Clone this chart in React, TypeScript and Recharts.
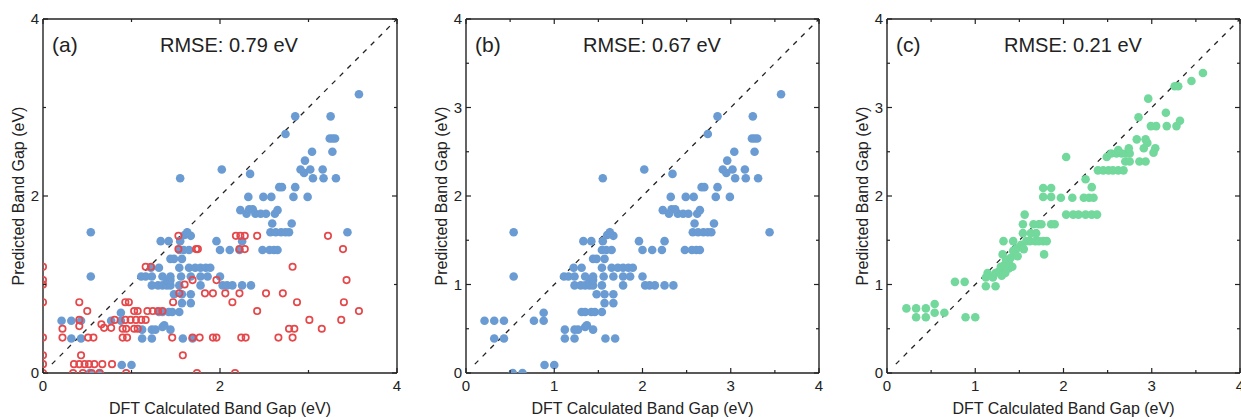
import React from "react";
import { ReferenceLine, Scatter, ScatterChart, XAxis, YAxis } from "recharts";

const FONT = "'Liberation Sans', Arial, Helvetica, sans-serif";
const INK = "#222222";

// blue model: used in panel (a) and again alone in panel (b)  [DFT, predicted]
const bluePoints: [number, number][] = [
  [0.53, 0], [0.64, 0],
  [0.89, 0.09], [1.0, 0.09],
  [0.32, 0.39], [0.43, 0.39], [1.12, 0.39], [1.23, 0.39], [1.58, 0.39], [1.69, 0.39],
  [1.12, 0.49], [1.23, 0.49], [1.27, 0.49], [1.35, 0.52], [1.37, 0.54], [1.44, 0.49],
  [0.21, 0.59], [0.32, 0.59], [0.43, 0.59], [0.77, 0.59], [0.88, 0.59],
  [0.88, 0.68],
  [1.31, 0.69], [1.35, 0.69], [1.42, 0.69], [1.46, 0.69], [1.54, 0.69],
  [1.57, 0.79], [1.67, 0.79],
  [1.48, 0.89], [1.57, 0.89], [1.67, 0.89],
  [1.23, 0.99], [1.3, 0.99], [1.35, 0.99], [1.4, 0.99], [1.44, 0.99], [1.54, 0.99],
  [1.78, 0.99], [2.03, 0.99], [2.08, 0.99], [2.14, 0.99], [2.25, 0.99], [2.35, 0.99],
  [1.4, 1.05], [1.44, 1.05],
  [0.54, 1.09], [1.11, 1.09], [1.16, 1.09], [1.23, 1.09], [1.35, 1.09], [1.44, 1.09],
  [1.56, 1.09], [1.67, 1.09], [1.78, 1.09], [1.86, 1.09], [2.0, 1.09],
  [1.22, 1.19], [1.31, 1.19], [1.54, 1.19], [1.65, 1.19], [1.72, 1.19], [1.78, 1.19],
  [1.84, 1.19], [1.89, 1.19],
  [1.44, 1.29], [1.48, 1.29], [1.57, 1.29],
  [1.54, 1.39], [1.59, 1.39], [1.65, 1.39], [2.0, 1.39], [2.11, 1.39], [2.22, 1.39],
  [2.48, 1.39], [2.56, 1.39], [2.61, 1.39], [2.65, 1.39],
  [1.33, 1.49], [1.42, 1.49], [1.55, 1.49], [1.96, 1.49], [2.25, 1.49],
  [1.6, 1.56], [1.67, 1.55], [1.63, 1.59],
  [0.54, 1.59], [2.57, 1.59], [2.63, 1.59], [2.69, 1.59], [2.74, 1.59], [2.78, 1.59], [3.44, 1.59],
  [2.59, 1.69], [2.81, 1.69],
  [2.3, 1.8], [2.4, 1.8], [2.46, 1.8], [2.52, 1.8], [2.62, 1.8],
  [2.23, 1.84], [2.33, 1.85], [2.37, 1.85], [2.65, 1.84],
  [2.32, 1.99], [2.49, 1.99], [2.58, 1.99], [2.83, 1.99], [2.99, 1.99],
  [2.67, 2.1], [2.7, 2.1], [2.85, 2.1],
  [1.55, 2.2], [3.05, 2.2], [3.17, 2.2], [3.31, 2.2],
  [2.34, 2.25], [2.95, 2.26],
  [2.02, 2.3], [2.91, 2.3], [3.02, 2.3], [3.16, 2.3],
  [2.96, 2.4],
  [3.04, 2.5], [3.27, 2.5],
  [3.24, 2.65], [3.27, 2.65], [3.3, 2.65],
  [2.74, 2.7],
  [2.85, 2.9], [3.25, 2.9],
  [3.57, 3.15],
];

// red open circles, panel (a) only
const redPoints: [number, number][] = [
  [0, 1.2], [0, 1.05], [0, 1.0], [0, 0.8], [0, 0.4], [0, 0.2], [0, 0.1], [0, 0],
  [0.41, 0.8], [0.5, 0.7], [0.22, 0.5], [0.22, 0.4], [0.41, 0.6], [0.41, 0.53],
  [0.51, 0.4], [0.57, 0.4],
  [0.66, 0.55], [0.69, 0.51], [0.77, 0.51], [0.81, 0.6],
  [0.93, 0.8], [0.97, 0.8], [1.03, 0.7], [1.07, 0.7], [1.18, 0.7], [1.24, 0.7], [1.3, 0.7], [1.35, 0.7],
  [0.93, 0.6], [0.99, 0.6], [1.05, 0.6], [1.11, 0.6], [1.16, 0.6],
  [0.9, 0.5], [0.94, 0.5], [1.03, 0.5], [1.07, 0.5],
  [0.9, 0.4], [0.95, 0.4],
  [0.43, 0.2],
  [0.35, 0.1], [0.41, 0.1], [0.47, 0.1], [0.52, 0.1], [0.58, 0.1], [0.67, 0.1], [0.78, 0.1],
  [0.34, 0], [0.45, 0], [0.55, 0], [0.64, 0], [0.94, 0],
  [1.16, 1.2], [1.22, 1.2],
  [1.53, 1.55], [1.53, 1.4], [1.73, 1.4], [1.75, 1.4],
  [2.18, 1.55], [2.23, 1.55], [2.28, 1.55], [2.42, 1.55], [2.22, 1.4], [2.28, 1.4],
  [1.6, 1.0], [1.69, 1.05], [1.96, 1.05],
  [1.54, 0.9], [1.83, 0.9], [1.92, 0.9], [2.06, 0.9], [2.22, 0.9], [2.52, 0.9], [2.71, 0.9],
  [1.47, 0.8], [2.14, 0.8], [2.42, 0.7],
  [1.46, 0.4], [1.69, 0.4], [1.77, 0.4], [1.92, 0.4], [1.96, 0.4], [2.24, 0.4], [2.29, 0.4],
  [2.66, 0.4], [2.82, 0.4],
  [2.78, 0.5], [2.84, 0.5], [3.15, 0.5],
  [1.58, 0.2], [1.74, 0], [2.17, 0],
  [3.22, 1.55], [3.39, 1.4], [2.82, 1.2], [3.43, 1.05], [2.87, 0.8], [3.4, 0.8],
  [3.57, 0.7], [3.01, 0.6], [3.37, 0.6],
];

// green model, panel (c)
const greenPoints: [number, number][] = [
  [0.22, 0.73], [0.33, 0.73], [0.44, 0.73], [0.54, 0.78],
  [0.33, 0.63], [0.44, 0.63], [0.54, 0.68], [0.65, 0.68],
  [0.77, 1.03], [0.88, 1.03], [0.89, 0.63], [1.0, 0.63],
  [1.12, 0.98], [1.23, 0.98],
  [1.12, 1.08], [1.14, 1.13], [1.2, 1.08], [1.23, 1.13], [1.27, 1.15], [1.3, 1.1], [1.34, 1.13],
  [1.29, 1.2], [1.33, 1.22], [1.38, 1.18], [1.38, 1.25], [1.42, 1.2], [1.31, 1.34], [1.35, 1.28],
  [1.4, 1.3], [1.44, 1.35], [1.46, 1.4], [1.43, 1.38], [1.48, 1.32], [1.5, 1.42], [1.52, 1.45], [1.55, 1.4],
  [1.32, 1.49], [1.43, 1.49],
  [1.58, 1.49], [1.62, 1.49], [1.68, 1.49], [1.72, 1.49], [1.77, 1.49], [1.81, 1.49],
  [1.54, 1.58], [1.63, 1.58], [1.69, 1.58],
  [1.54, 1.68], [1.66, 1.68], [1.72, 1.68], [1.75, 1.68], [1.86, 1.68], [1.9, 1.68],
  [1.56, 1.79], [1.78, 1.34],
  [1.77, 2.09], [1.86, 2.09], [1.77, 1.99], [1.86, 1.99],
  [1.97, 1.98], [2.1, 1.98], [2.23, 1.98], [2.29, 1.98], [2.34, 1.98],
  [2.03, 1.79], [2.11, 1.79], [2.17, 1.79], [2.25, 1.79], [2.32, 1.79], [2.38, 1.79],
  [2.25, 2.19], [2.32, 2.1], [2.03, 2.44],
  [2.39, 2.29], [2.45, 2.29], [2.51, 2.29], [2.56, 2.29], [2.62, 2.29], [2.68, 2.29],
  [2.49, 2.44], [2.54, 2.48], [2.6, 2.48], [2.66, 2.48], [2.71, 2.48], [2.75, 2.48],
  [2.62, 2.52], [2.74, 2.54],
  [2.7, 2.39], [2.75, 2.39], [2.86, 2.39], [2.93, 2.39],
  [2.83, 2.64], [2.93, 2.64], [2.95, 2.6], [2.91, 2.54], [3.04, 2.54], [3.02, 2.49],
  [2.85, 2.89], [2.96, 3.1], [3.16, 2.94],
  [2.99, 2.79], [3.05, 2.79], [3.17, 2.79], [3.28, 2.79], [3.32, 2.85],
  [3.26, 3.24], [3.3, 3.24], [3.45, 3.3], [3.58, 3.39],
];

const panelTags = ["(a)", "(b)", "(c)"];
const rmseTexts = ["RMSE: 0.79 eV", "RMSE: 0.67 eV", "RMSE: 0.21 eV"];
const ticksWide = [0, 1, 2, 3, 4];
const labelsWide = [0, 2, 4];
const ticksFine = [0, 0.5, 1, 1.5, 2, 2.5, 3, 3.5, 4];
const labelsFine = [0, 1, 2, 3, 4];
const xTitle = "DFT Calculated Band Gap (eV)";
const yTitle = "Predicted Band Gap (eV)";

const BLUE = "#6a9bd2";
const RED = "#e5484b";
const GREEN = "#72d89c";

const TOP = 19;
const PLOT_H = 354;
const LEFT = 43;
const HEIGHT = 419;

const toRows = (pts: [number, number][]) => pts.map(([x, y]) => ({ x, y }));

type Side = "bottom" | "left" | "top" | "right";

const makeTick = (side: Side, labels: number[]) => (props: any) => {
  const { x, y, payload } = props;
  const v = payload.value;
  const major = labels.includes(v);
  const len = major ? 5 : 3;
  const showText = major && (side === "bottom" || side === "left");
  if (side === "bottom")
    return (
      <g>
        <line x1={x} x2={x} y1={y} y2={y - len} stroke={INK} strokeWidth={1.2} />
        {showText && (
          <text x={x} y={y + 18} textAnchor="middle" fontSize={15} fill={INK} fontFamily={FONT}>
            {v}
          </text>
        )}
      </g>
    );
  if (side === "top")
    return <line x1={x} x2={x} y1={y} y2={y + len} stroke={INK} strokeWidth={1.2} />;
  if (side === "right")
    return <line x1={x} x2={x - len} y1={y} y2={y} stroke={INK} strokeWidth={1.2} />;
  return (
    <g>
      <line x1={x} x2={x + len} y1={y} y2={y} stroke={INK} strokeWidth={1.2} />
      {showText && (
        <text x={x - 4} y={y + 5} textAnchor="end" fontSize={15} fill={INK} fontFamily={FONT}>
          {v}
        </text>
      )}
    </g>
  );
};

const dot = (fill: string) => (p: any) => <circle cx={p.cx} cy={p.cy} r={4.3} fill={fill} />;
const ring = (p: any) => (
  <circle cx={p.cx} cy={p.cy} r={3.2} fill="none" stroke={RED} strokeWidth={1.7} />
);
const nothing = () => <g />;

function Panel({
  left,
  plotW,
  chartW,
  idx,
  ticks,
  labels,
  series,
}: {
  left: number;
  plotW: number;
  chartW: number;
  idx: number;
  ticks: number[];
  labels: number[];
  series: { rows: { x: number; y: number }[]; shape: any }[];
}) {
  // top / right axes are 1px bands so they are laid out and drawn
  const right = chartW - LEFT - plotW - 1;
  const axisLine = { stroke: INK, strokeWidth: 1.4 };
  return (
    <div style={{ position: "absolute", left, top: 0 }}>
      <ScatterChart
        width={chartW}
        height={HEIGHT}
        margin={{ top: TOP - 1, right, bottom: 0, left: 0 }}
      >
        <XAxis
          xAxisId="b"
          type="number"
          dataKey="x"
          domain={[0, 4]}
          ticks={ticks}
          allowDataOverflow
          height={HEIGHT - TOP - PLOT_H}
          tickSize={0}
          tickMargin={0}
          tickLine={false}
          axisLine={axisLine}
          tick={makeTick("bottom", labels)}
          interval={0}
        />
        <XAxis
          xAxisId="t"
          orientation="top"
          type="number"
          dataKey="x"
          domain={[0, 4]}
          ticks={ticks}
          allowDataOverflow
          height={1}
          tickSize={0}
          tickMargin={0}
          tickLine={false}
          axisLine={axisLine}
          tick={makeTick("top", labels)}
          interval={0}
        />
        <YAxis
          yAxisId="l"
          type="number"
          dataKey="y"
          domain={[0, 4]}
          ticks={ticks}
          allowDataOverflow
          width={LEFT}
          tickSize={0}
          tickMargin={0}
          tickLine={false}
          axisLine={axisLine}
          tick={makeTick("left", labels)}
          interval={0}
        />
        <YAxis
          yAxisId="r"
          orientation="right"
          type="number"
          dataKey="y"
          domain={[0, 4]}
          ticks={ticks}
          allowDataOverflow
          width={1}
          tickSize={0}
          tickMargin={0}
          tickLine={false}
          axisLine={axisLine}
          tick={makeTick("right", labels)}
          interval={0}
        />
        {/* invisible series tying the mirror axes into the layout */}
        <Scatter
          xAxisId="t"
          yAxisId="r"
          data={series[0].rows}
          shape={nothing}
          isAnimationActive={false}
        />
        {series.map((s, i) => (
          <Scatter
            key={i}
            xAxisId="b"
            yAxisId="l"
            data={s.rows}
            shape={s.shape}
            isAnimationActive={false}
          />
        ))}
        <ReferenceLine
          xAxisId="b"
          yAxisId="l"
          segment={[
            { x: 0.1, y: 0.1 },
            { x: 4, y: 4 },
          ]}
          stroke={INK}
          strokeWidth={1.3}
          strokeDasharray="5 6"
        />
        <text x={LEFT + 9} y={TOP + 33} fontSize={21} fill={INK} fontFamily={FONT}>
          {panelTags[idx]}
        </text>
        <text x={LEFT + 117} y={TOP + 33} fontSize={20} fill={INK} fontFamily={FONT}>
          {rmseTexts[idx]}
        </text>
        <text
          x={LEFT + plotW / 2}
          y={414}
          textAnchor="middle"
          fontSize={16}
          fill={INK}
          fontFamily={FONT}
        >
          {xTitle}
        </text>
        <text
          x={LEFT - 19}
          y={196}
          transform={`rotate(-90 ${LEFT - 19} 196)`}
          textAnchor="middle"
          fontSize={16}
          fill={INK}
          fontFamily={FONT}
        >
          {yTitle}
        </text>
      </ScatterChart>
    </div>
  );
}

export default function App() {
  const blue = toRows(bluePoints);
  return (
    <div
      style={{
        position: "absolute",
        left: 0,
        top: 0,
        width: 1241,
        height: HEIGHT,
        overflow: "hidden",
        background: "#fff",
        fontFamily: FONT,
      }}
    >
      <Panel
        left={0}
        plotW={354}
        chartW={421}
        idx={0}
        ticks={ticksWide}
        labels={labelsWide}
        series={[
          { rows: blue, shape: dot(BLUE) },
          { rows: toRows(redPoints), shape: ring },
        ]}
      />
      <Panel
        left={423}
        plotW={353}
        chartW={421}
        idx={1}
        ticks={ticksFine}
        labels={labelsFine}
        series={[{ rows: blue, shape: dot(BLUE) }]}
      />
      <Panel
        left={844}
        plotW={353}
        chartW={397}
        idx={2}
        ticks={ticksFine}
        labels={labelsFine}
        series={[{ rows: toRows(greenPoints), shape: dot(GREEN) }]}
      />
    </div>
  );
}
